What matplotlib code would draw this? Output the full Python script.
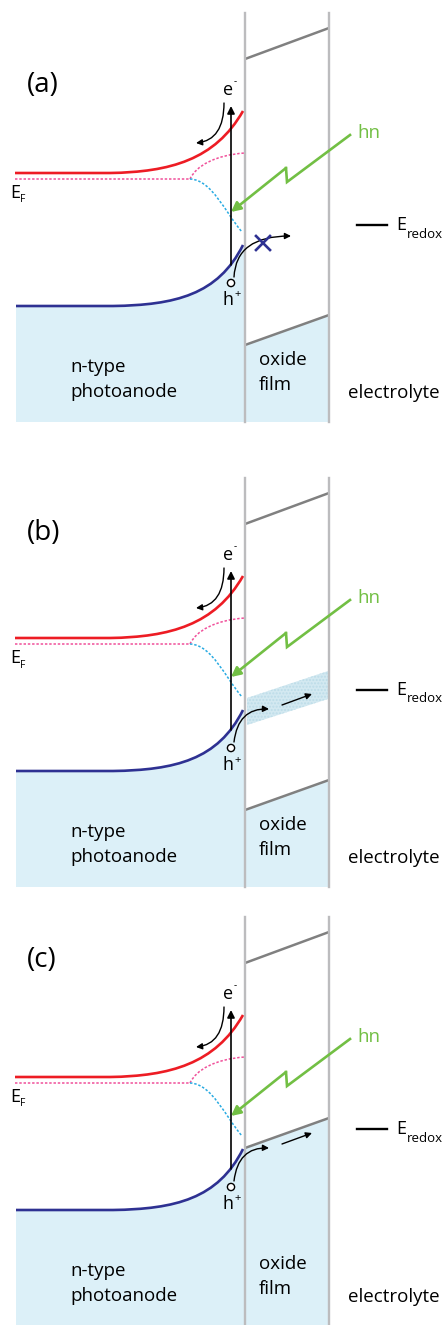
import matplotlib
matplotlib.use('Agg')
import matplotlib.pyplot as plt
from matplotlib.path import Path
from matplotlib.patches import PathPatch, FancyArrowPatch, Polygon, Circle

# Diagrama de bandas: fotoanodo tipo n / filme de óxido / eletrólito, três casos.

plt.rcParams['font.family'] = ['Open Sans', 'DejaVu Sans']

# paineis
panel_labels = ['(a)', '(b)', '(c)']
panel_dy = [0, 465, 904]
label_y = [85, 68, 56]
hole_mode = ['blocked', 'band', 'oxide']

# bandas do semicondutor (coordenadas em pixels do painel a)
cb_pts = [(15, 173), (110, 173), (170, 172), (215, 160), (243, 111)]
vb_pts = [(16, 306), (113, 306), (175, 305), (218, 295), (243, 245)]
ef_pts = [(15, 179), (190, 179)]
efn_pts = [(190, 179), (196, 166), (215, 155), (245, 153)]
efp_pts = [(190, 179), (212, 180), (225, 212), (242, 232)]

# óxido
x_int, x_ox = 245, 329
y_top, y_bot = 13, 422
ox_cb = [(245, 59), (329, 28)]
ox_vb = [(245, 345), (329, 315)]
ox_vb_c = [(245, 244), (329, 214)]
band_b = [(247, 233), (328, 206), (328, 234), (247, 260)]

# luz e portadores
hv_pts = [(350, 135), (287, 182), (286, 168)]
hv_tip = (231, 212)
exc_arrow = [(231, 265), (231, 106)]
e_arrow = [(224, 103), (224, 140), (196, 143)]
h_arrow_a = [(234, 277), (236, 236), (291, 236)]
h_arrow_bc = [(234, 277), (238, 243), (269, 244)]
drift_arrow = [(282, 240), (312, 229)]
hole_xy = (231, 283)
cross_xy = (263, 243)
redox_line = [(357, 225), (387, 225)]

RED = '#ed1c24'
NAVY = '#2e3192'
PINK = '#f0509a'
CYAN = '#29abe2'
GREEN = '#72bf44'
FILL = '#dcf0f8'
GRAY_L = '#bcbcbe'
GRAY_D = '#808080'

fig = plt.figure(figsize=(4.43, 13.25), dpi=100)
ax = fig.add_axes([0, 0, 1, 1])
ax.set_xlim(0, 443)
ax.set_ylim(1325, 0)
ax.axis('off')


def sh(pts, dy):
    return [(x, y + dy) for x, y in pts]


def curve(pts, dy):
    codes = [Path.MOVETO] + [Path.LINETO] * (len(pts) - 4) + [Path.CURVE4] * 3
    return Path(sh(pts, dy), codes)


def small_arrow(pts, dy, ms=10, lw=1.1):
    if len(pts) == 3:
        p = Path(sh(pts, dy), [Path.MOVETO, Path.CURVE3, Path.CURVE3])
    else:
        p = Path(sh(pts, dy), [Path.MOVETO, Path.LINETO])
    ax.add_patch(FancyArrowPatch(path=p, arrowstyle='-|>', mutation_scale=ms,
                                 color='black', lw=lw, zorder=6))


for lab, dy, ly, mode in zip(panel_labels, panel_dy, label_y, hole_mode):
    bot = y_bot + dy

    # preenchimento do semicondutor
    verts = sh(vb_pts, dy) + [(x_int, 245 + dy), (x_int, bot), (16, bot), (16, 306 + dy)]
    codes = [Path.MOVETO, Path.LINETO] + [Path.CURVE4] * 3 + [Path.LINETO] * 3 + [Path.CLOSEPOLY]
    ax.add_patch(PathPatch(Path(verts, codes), facecolor=FILL, edgecolor='none', zorder=1))

    # óxido
    vb_ox = ox_vb_c if mode == 'oxide' else ox_vb
    ax.add_patch(Polygon(sh(vb_ox, dy) + [(x_ox, bot), (x_int, bot)], closed=True,
                         facecolor=FILL, edgecolor='none', zorder=1))
    if mode == 'band':
        ax.add_patch(Polygon(sh(band_b, dy), closed=True, facecolor='#d3e9f1',
                             edgecolor='#bcdce8', hatch='.....', lw=0, zorder=2))
    for seg in (ox_cb, vb_ox):
        xs, ys = zip(*sh(seg, dy))
        ax.plot(xs, ys, color=GRAY_D, lw=1.8, zorder=3, solid_capstyle='butt')
    for x in (x_int, x_ox):
        ax.plot([x, x], [y_top + dy, bot], color=GRAY_L, lw=1.7, zorder=3)

    # bandas
    ax.add_patch(PathPatch(curve(cb_pts, dy), facecolor='none', edgecolor=RED, lw=1.9, zorder=4))
    ax.add_patch(PathPatch(curve(vb_pts, dy), facecolor='none', edgecolor=NAVY, lw=1.9, zorder=4))
    xs, ys = zip(*sh(ef_pts, dy))
    ax.plot(xs, ys, color=PINK, lw=1.1, ls=(0, (1.6, 1.2)), zorder=4)
    ax.add_patch(PathPatch(Path(sh(efn_pts, dy), [Path.MOVETO] + [Path.CURVE4] * 3),
                           facecolor='none', edgecolor=PINK, lw=1.1, ls=(0, (1.6, 1.2)), zorder=4))
    ax.add_patch(PathPatch(Path(sh(efp_pts, dy), [Path.MOVETO] + [Path.CURVE4] * 3),
                           facecolor='none', edgecolor=CYAN, lw=1.1, ls=(0, (1.6, 1.2)), zorder=4))

    # excitação
    small_arrow(exc_arrow, dy, ms=11, lw=1.2)
    small_arrow(e_arrow, dy, ms=9, lw=1.0)
    small_arrow(h_arrow_a if mode == 'blocked' else h_arrow_bc, dy, ms=9, lw=1.0)
    if mode != 'blocked':
        small_arrow(drift_arrow, dy, ms=9, lw=1.0)
    else:
        cx, cy = cross_xy[0], cross_xy[1] + dy
        ax.plot([cx - 7, cx + 7], [cy - 7, cy + 7], color=NAVY, lw=1.9, zorder=7)
        ax.plot([cx - 7, cx + 7], [cy + 7, cy - 7], color=NAVY, lw=1.9, zorder=7)
    ax.add_patch(Circle((hole_xy[0], hole_xy[1] + dy), 3.6, facecolor='white',
                        edgecolor='black', lw=1.0, zorder=7))

    # luz
    xs, ys = zip(*sh(hv_pts, dy))
    ax.plot(xs, ys, color=GREEN, lw=1.9, zorder=5, solid_joinstyle='miter')
    ax.add_patch(FancyArrowPatch(sh(hv_pts, dy)[-1], (hv_tip[0], hv_tip[1] + dy),
                                 arrowstyle='-|>', mutation_scale=14, color=GREEN,
                                 lw=1.9, shrinkA=0, shrinkB=0, zorder=5))

    # E redox
    xs, ys = zip(*sh(redox_line, dy))
    ax.plot(xs, ys, color='black', lw=1.7, zorder=4)

    # textos
    ax.text(27, ly + dy, lab, fontsize=20, va='center', ha='left')
    ax.text(228, 90 + dy, 'e', fontsize=13, ha='center', va='center')
    ax.text(235, 82 + dy, '-', fontsize=7, ha='center', va='center')
    ax.text(228, 300 + dy, 'h', fontsize=13, ha='center', va='center')
    ax.text(238, 295 + dy, '+', fontsize=8, ha='center', va='center')
    ax.text(10, 193 + dy, 'E', fontsize=13, ha='left', va='center')
    ax.text(20, 200 + dy, 'F', fontsize=7.5, ha='left', va='center')
    ax.text(396, 225 + dy, 'E', fontsize=13, ha='left', va='center')
    ax.text(407, 234 + dy, 'redox', fontsize=9.5, ha='left', va='center')
    ax.text(357, 133 + dy, 'hn', fontsize=13.5, color=GREEN, ha='left', va='center')
    ax.text(70, 372 + dy, 'n-type', fontsize=13.5, ha='left', va='baseline')
    ax.text(70, 397 + dy, 'photoanode', fontsize=13.5, ha='left', va='baseline')
    ax.text(259, 365 + dy, 'oxide', fontsize=13.5, ha='left', va='baseline')
    ax.text(259, 390 + dy, 'film', fontsize=13.5, ha='left', va='baseline')
    ax.text(348, 398 + dy, 'electrolyte', fontsize=13.5, ha='left', va='baseline')

fig.savefig('out.png', dpi=100)
